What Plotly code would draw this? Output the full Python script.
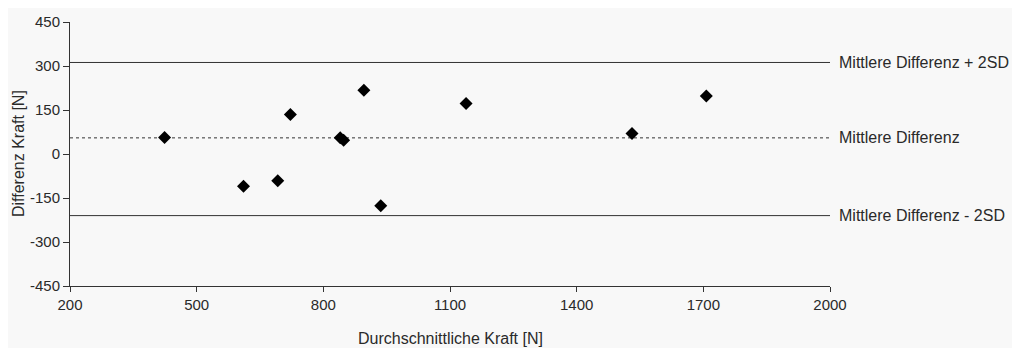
import plotly.graph_objects as go

mean_force = [424, 611, 692, 722, 840, 848, 896, 936, 1138, 1531, 1707]
diff_force = [56, -110, -91, 135, 55, 47, 217, -176, 172, 70, 198]

mean_diff = 55
upper_loa = 312
lower_loa = -210
line_x = [200, 2000]

x_ticks = [200, 500, 800, 1100, 1400, 1700, 2000]
y_ticks = [-450, -300, -150, 0, 150, 300, 450]
y_tick_labels = ["-450", "-300", "-150", "0", "150", "300", "450"]

line_labels = ["Mittlere Differenz + 2SD", "Mittlere Differenz", "Mittlere Differenz - 2SD"]

font = "Liberation Sans, Arial, sans-serif"
txt = "#2a2a2a"
bg = "#f8f8f8"

fig = go.Figure()
fig.add_trace(go.Scatter(x=line_x, y=[upper_loa, upper_loa], mode="lines",
                         line=dict(color="#333333", width=1), hoverinfo="skip"))
fig.add_trace(go.Scatter(x=line_x, y=[mean_diff, mean_diff], mode="lines",
                         line=dict(color="#333333", width=1, dash="3px,3px"), hoverinfo="skip"))
fig.add_trace(go.Scatter(x=line_x, y=[lower_loa, lower_loa], mode="lines",
                         line=dict(color="#333333", width=1), hoverinfo="skip"))
fig.add_trace(go.Scatter(x=mean_force, y=diff_force, mode="markers",
                         marker=dict(symbol="diamond", size=10, color="black")))

for lbl, yv in zip(line_labels, [upper_loa, mean_diff, lower_loa]):
    fig.add_annotation(x=1, xref="paper", y=yv, yref="y", text=lbl, showarrow=False,
                       xanchor="left", xshift=7, font=dict(family=font, size=16, color=txt))

# axis titles
fig.add_annotation(x=0.5, xref="paper", y=0, yref="paper", text="Durchschnittliche Kraft [N]",
                   showarrow=False, xanchor="center", yanchor="middle", yshift=-52,
                   font=dict(family=font, size=16, color=txt))
fig.add_annotation(x=0, xref="paper", y=0.5, yref="paper", text="Differenz Kraft [N]",
                   showarrow=False, xanchor="center", yanchor="middle", xshift=-52,
                   textangle=-90, font=dict(family=font, size=16, color=txt))

fig.update_layout(
    width=1005, height=340,
    margin=dict(l=62, r=183, t=14, b=62),
    paper_bgcolor=bg, plot_bgcolor=bg,
    showlegend=False,
    font=dict(family=font, size=15, color=txt),
)
fig.update_xaxes(range=[200, 2000], tickvals=x_ticks, showgrid=False, zeroline=False,
                 showline=True, linecolor="#333333", linewidth=1, ticks="outside",
                 ticklen=5, tickcolor="#333333", automargin=False)
fig.update_yaxes(range=[-450, 450], tickvals=y_ticks, ticktext=y_tick_labels,
                 showgrid=False, zeroline=False,
                 showline=True, linecolor="#333333", linewidth=1, ticks="outside",
                 ticklen=6, tickcolor="#333333", automargin=False)

fig.write_html("out.html")
